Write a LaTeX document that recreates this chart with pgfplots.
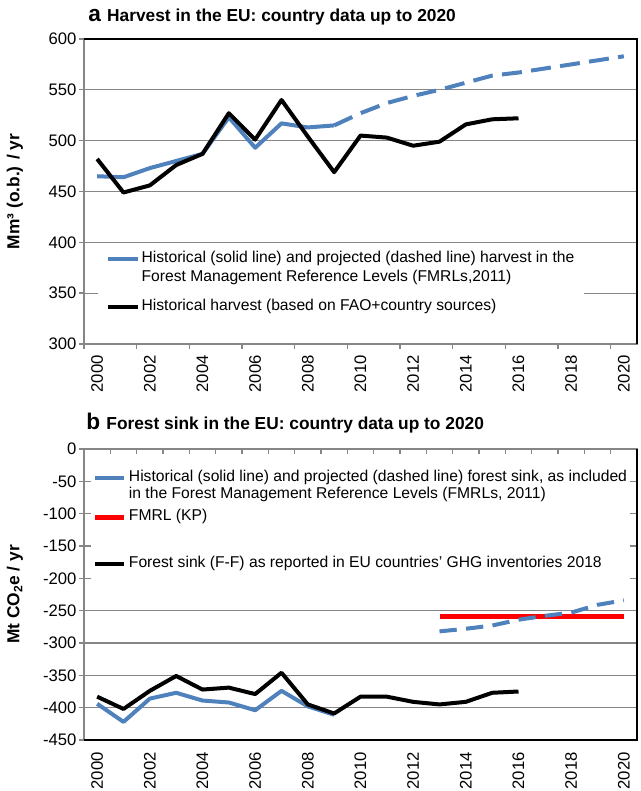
\documentclass[border=0pt]{standalone}
\usepackage{fontspec}
\setmainfont{Liberation Sans}
\usepackage{pgfplots}
\pgfplotsset{compat=1.18}
\definecolor{exblue}{HTML}{4F81BD}
\definecolor{axgray}{HTML}{868686}
\definecolor{exred}{HTML}{FF0000}
\newcommand{\lsa}{\rule[-4.25pt]{0pt}{14.25pt}}
\newcommand{\lsb}{\rule[-4pt]{0pt}{13.1pt}}
\pgfplotsset{
  legend image code/.code={\draw[#1, line cap=butt] (0pt,0pt) -- (22pt,0pt);},
  panel/.style={
    scale only axis, width=414.75pt, anchor=south west,
    xmin=1999.5, xmax=2020.5, clip=false,
    xtick={2000,2002,...,2020},
    xticklabels={2000,2002,2004,2006,2008,2010,2012,2014,2016,2018,2020},
    major x tick style={draw=none},
    ytick pos=left,
    ymajorgrids,
    grid style={axgray, line width=0.9pt},
    axis line style={axgray, line width=1.2pt},
    tick style={axgray, line width=1pt},
    major tick length=3.5pt,
    tick label style={font=\fontsize{12.5}{14}\selectfont},
    yticklabel style={inner xsep=2pt},
    every axis y label/.style={at={(rel axis cs:0,0.5)}, rotate=90, anchor=center, yshift=51.75pt, font=\bfseries\fontsize{13}{15}\selectfont},
    legend cell align=left,
    legend style={draw=none, fill=white, font=\fontsize{11.75}{14}\selectfont, row sep=0pt, column sep=0pt, nodes={inner ysep=0pt, inner xsep=1.5pt, text depth=}},
  },
}
\begin{document}
\begin{tikzpicture}
\useasboundingbox (0,0) rectangle (480pt,593.25pt);
% ---------- panel a ----------
\begin{axis}[panel, at={(63pt,335.25pt)}, height=228.75pt,
  ymin=300, ymax=600, ytick={300,350,...,600},
  yticklabels={300,350,400,450,500,550,600},
  xtick pos=left, tick align=outside,
  xticklabel style={rotate=90, anchor=east, inner ysep=0pt, inner xsep=4.75pt},
  ylabel={Mm³ (o.b.) / yr},
  legend style={at={(0.0253,0.33)}, anchor=north west, inner xsep=6pt, inner ysep=4.5pt}]
\addplot[exblue, line width=3pt, line join=round] coordinates {(2000,465)(2001,464)(2002,473)(2003,480)(2004,487)(2005,523)(2006,493)(2007,517)(2008,513)(2009,515)};
\addlegendentry{\lsa Historical (solid line) and projected (dashed line) harvest in the}
\addlegendimage{empty legend}
\addlegendentry{\lsa Forest Management Reference Levels (FMRLs,2011)}
\addlegendimage{empty legend}
\addlegendentry{\rule{0pt}{7.5pt}}
\addplot[exblue, line width=3pt, dash pattern=on 15pt off 7pt, forget plot] coordinates {(2009,515)(2010,527)(2011,537)(2012,544)(2013,550)(2014,557)(2015,564)(2016,567)(2017,571)(2018,575)(2019,579)(2020,583)};
\addplot[black, line width=3pt, line join=round] coordinates {(2000,482)(2001,449)(2002,456)(2003,476)(2004,487)(2005,527)(2006,501)(2007,540)(2008,504)(2009,469)(2010,505)(2011,503)(2012,495)(2013,499)(2014,516)(2015,521)(2016,522)};
\addlegendentry{\lsa Historical harvest (based on FAO+country sources)}
\pgfplotsinvokeforeach{1999.5,2001.5,...,2019.5}{\draw[axgray, line width=1pt] (axis cs:#1,300) -- ++(0pt,-3.5pt);}
\draw[black, line width=1.5pt] (rel axis cs:0,1) -- (rel axis cs:1,1) -- (rel axis cs:1,0);
\end{axis}
\node[anchor=base west, inner sep=0pt] at (66pt,576.75pt) {\bfseries\fontsize{17}{17}\selectfont a \fontsize{13}{13}\selectfont Harvest in the EU: country data up to 2020};
% ---------- panel b ----------
\begin{axis}[panel, at={(63pt,38.25pt)}, height=218.25pt,
  ymin=-450, ymax=0, ytick={-450,-400,...,0},
  yticklabels={-450,-400,-350,-300,-250,-200,-150,-100,-50,0},
  xtick pos=left, tick align=outside,
  xticklabel style={rotate=90, anchor=east, inner ysep=0pt, inner xsep=5.5pt},
  ylabel={Mt CO\textsubscript{2}e / yr},
  legend style={at={(0.0127,0.952)}, anchor=north west, inner xsep=1pt, inner ysep=4.5pt}]
\addplot[exblue, line width=3pt, line join=round] coordinates {(2000,-394)(2001,-422)(2002,-386)(2003,-377)(2004,-389)(2005,-392)(2006,-404)(2007,-374)(2008,-398)(2009,-411)};
\addlegendentry{\lsb Historical (solid line) and projected (dashed line) forest sink, as included}
\addlegendimage{empty legend}
\addlegendentry{\lsb in the Forest Management Reference Levels (FMRLs, 2011)}
\addlegendimage{empty legend}
\addlegendentry{\rule{0pt}{3.5pt}}
\addplot[exred, line width=3.75pt] coordinates {(2013,-259)(2014,-259)(2015,-259)(2016,-259)(2017,-259)(2018,-259)(2019,-259)(2020,-259)};
\addlegendentry{\lsb FMRL (KP)}
\addlegendimage{empty legend}
\addlegendentry{\rule{0pt}{22pt}}
\addplot[exblue, line width=3pt, dash pattern=on 13pt off 7pt, forget plot] coordinates {(2013,-282)(2014,-278)(2015,-273)(2016,-264)(2017,-258)(2018,-253)(2019,-241)(2020,-234)};
\addplot[black, line width=3pt, line join=round] coordinates {(2000,-383)(2001,-402)(2002,-374)(2003,-351)(2004,-372)(2005,-369)(2006,-379)(2007,-346)(2008,-395)(2009,-409)(2010,-383)(2011,-383)(2012,-391)(2013,-395)(2014,-391)(2015,-377)(2016,-375)};
\addlegendentry{\lsb Forest sink (F-F) as reported in EU countries' GHG inventories 2018}
\pgfplotsinvokeforeach{2000.5,2001.5,...,2019.5}{\draw[axgray, line width=1pt] (axis cs:#1,0) -- ++(0pt,-3.5pt);}
\draw[black, line width=1.5pt] (rel axis cs:0,0) -- (rel axis cs:1,0) -- (rel axis cs:1,1);
\end{axis}
\node[anchor=base west, inner sep=0pt] at (64.5pt,270.75pt) {\bfseries\fontsize{17}{17}\selectfont b \fontsize{13}{13}\selectfont Forest sink in the EU: country data up to 2020};
\end{tikzpicture}
\end{document}
